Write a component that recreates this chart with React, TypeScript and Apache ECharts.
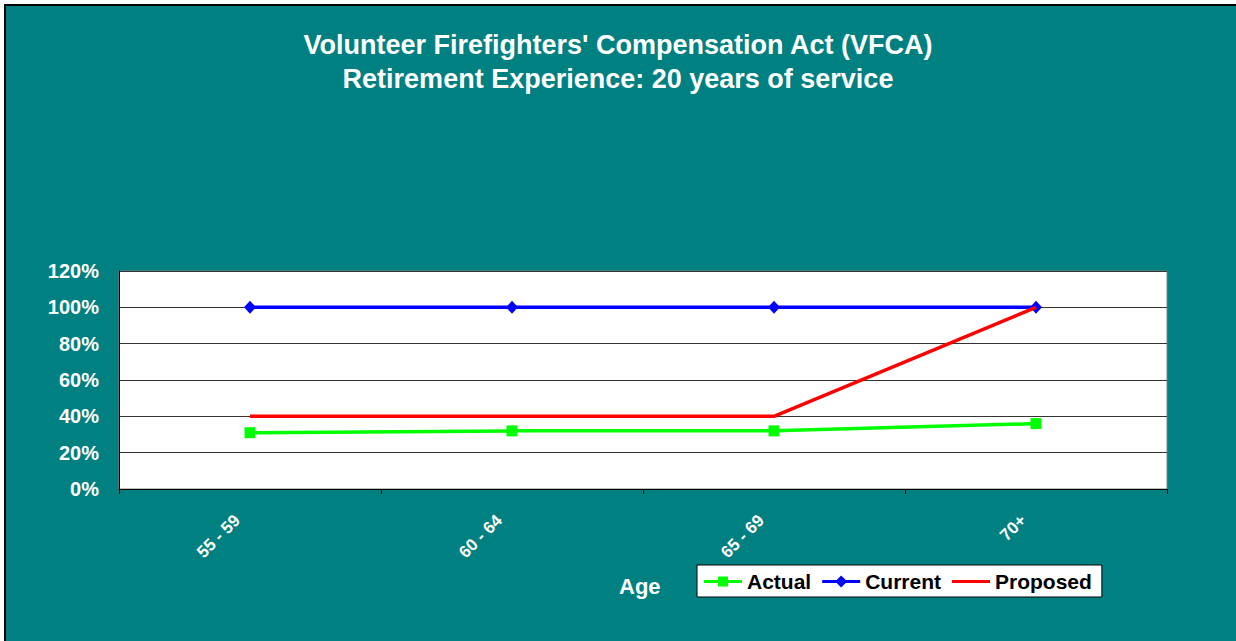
import React, { useEffect, useRef } from "react";
import * as echarts from "echarts";

const categories = ["55 - 59", "60 - 64", "65 - 69", "70+"];
const actual = [31, 32, 32, 36];
const current = [100, 100, 100, 100];
const proposed = [40, 40, 40, 100];
const titleLines = [
  "Volunteer Firefighters' Compensation Act (VFCA)",
  "Retirement Experience: 20 years of service",
];

export default function App() {
  const ref = useRef<HTMLDivElement>(null);
  useEffect(() => {
    if (!ref.current) return;
    const chart = echarts.init(ref.current, null, { renderer: "svg" });
    const font = "Liberation Sans, Arial, sans-serif";
    chart.setOption({
      animation: false,
      backgroundColor: "#008080",
      textStyle: { fontFamily: font },
      title: {
        text: titleLines.join("\n"),
        left: "center",
        top: 28,
        padding: 0,
        textStyle: {
          color: "#fff",
          fontSize: 27,
          fontWeight: "bold",
          lineHeight: 34,
          fontFamily: font,
        },
      },
      grid: {
        left: 119,
        right: 69,
        top: 271,
        bottom: 152,
        show: true,
        backgroundColor: "#fff",
        borderColor: "#808080",
        borderWidth: 1,
      },
      legend: {
        left: 697,
        top: 565,
        backgroundColor: "#fff",
        borderColor: "#000",
        borderWidth: 1,
        borderRadius: 0,
        padding: [6, 10, 5, 7],
        itemWidth: 38,
        itemHeight: 12,
        itemGap: 11,
        textStyle: { color: "#000", fontSize: 21, fontWeight: "bold", fontFamily: font },
        data: [
          {
            name: "Actual",
            icon: "path://M0,4.5 H38 V7.5 H0 Z M14,1 H24 V11 H14 Z",
            itemStyle: { color: "#00ff00" },
          },
          {
            name: "Current",
            icon: "path://M0,4.5 H38 V7.5 H0 Z M19,0 L25,6 L19,12 L13,6 Z",
            itemStyle: { color: "#0000ff" },
          },
          {
            name: "Proposed",
            icon: "path://M0,4.5 H38 V7.5 H0 Z M0,0 H0.01 V12 H0 Z",
            itemStyle: { color: "#ff0000" },
          },
        ],
      },
      xAxis: {
        type: "category",
        data: categories,
        boundaryGap: true,
        axisLine: { lineStyle: { color: "#000", width: 1 } },
        axisTick: { show: true, length: 5, lineStyle: { color: "#000" } },
        axisLabel: {
          rotate: 45,
          color: "#fff",
          fontSize: 17,
          fontWeight: "bold",
          fontFamily: font,
          margin: 16,
          padding: [0, 18, 0, 0],
        },
        splitLine: { show: false },
      },
      yAxis: {
        type: "value",
        min: 0,
        max: 120,
        interval: 20,
        axisLine: { show: true, lineStyle: { color: "#000", width: 1 } },
        axisTick: { show: false },
        axisLabel: {
          formatter: "{value}%",
          color: "#fff",
          fontSize: 20,
          fontWeight: "bold",
          fontFamily: font,
          margin: 20,
        },
        splitLine: { show: true, lineStyle: { color: "#333", width: 1 } },
      },
      graphic: [
        {
          type: "text",
          left: 619,
          top: 575,
          style: {
            text: "Age",
            fill: "#fff",
            font: `bold 22px ${font}`,
          },
        },
        { type: "rect", z: 100, shape: { x: 0, y: 0, width: 4, height: 641 }, style: { fill: "#fff" } },
        { type: "rect", z: 100, shape: { x: 0, y: 0, width: 1236, height: 4 }, style: { fill: "#fff" } },
        { type: "line", z: 100, shape: { x1: 5, y1: 4, x2: 5, y2: 641 }, style: { stroke: "#000", lineWidth: 2 } },
        { type: "line", z: 100, shape: { x1: 4, y1: 5, x2: 1236, y2: 5 }, style: { stroke: "#000", lineWidth: 2 } },
      ],
      series: [
        {
          name: "Actual",
          type: "line",
          data: actual,
          color: "#00ff00",
          lineStyle: { width: 3.5, color: "#00ff00" },
          symbol: "rect",
          symbolSize: 11,
          itemStyle: { color: "#00ff00" },
          z: 3,
        },
        {
          name: "Current",
          type: "line",
          data: current,
          color: "#0000ff",
          lineStyle: { width: 3.5, color: "#0000ff" },
          symbol: "diamond",
          symbolSize: [12, 13],
          itemStyle: { color: "#0000ff" },
          z: 3,
        },
        {
          name: "Proposed",
          type: "line",
          data: proposed,
          color: "#ff0000",
          lineStyle: { width: 3.5, color: "#ff0000" },
          symbol: "none",
          showSymbol: false,
          itemStyle: { color: "#ff0000" },
          z: 4,
        },
      ],
    });
    return () => chart.dispose();
  }, []);
  return (
    <div
      ref={ref}
      style={{ position: "fixed", left: 0, top: 0, width: 1236, height: 641 }}
    />
  );
}
